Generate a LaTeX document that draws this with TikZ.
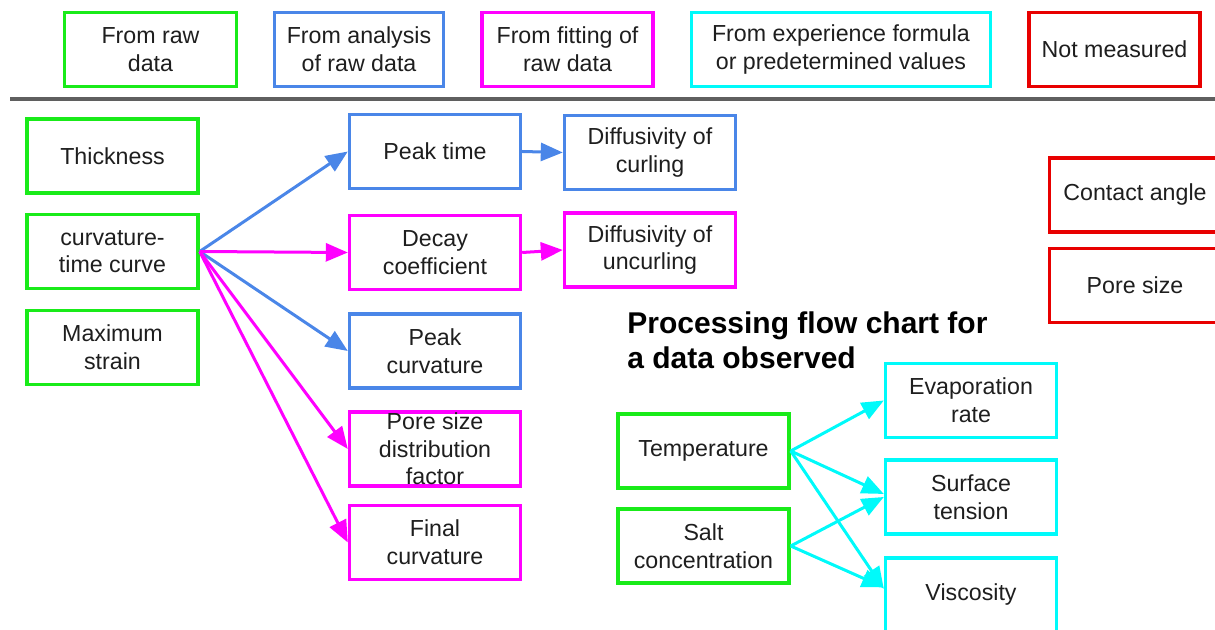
\documentclass[tikz,border=0pt]{standalone}
\usepackage{fontspec}
\setmainfont{Liberation Sans}
\usetikzlibrary{arrows.meta}
\definecolor{rawgreen}{RGB}{25,235,25}
\definecolor{anablue}{RGB}{74,134,232}
\definecolor{fitmagenta}{RGB}{255,0,255}
\definecolor{expcyan}{RGB}{0,250,250}
\definecolor{nonered}{RGB}{232,0,0}
\definecolor{rulegray}{RGB}{95,95,95}
\definecolor{inkgray}{RGB}{30,30,30}
\begin{document}
\begin{tikzpicture}[x=0.5pt,y=-0.5pt,
    box/.style={draw,line width=1.7pt,align=center,inner sep=0pt,
      minimum width=85.5pt,minimum height=37pt,text=inkgray,
      font=\fontsize{11.6}{13.8}\selectfont},
    rawbox/.style={box,draw=rawgreen},
    anabox/.style={box,draw=anablue},
    fitbox/.style={box,draw=fitmagenta},
    expbox/.style={box,draw=expcyan},
    nonebox/.style={box,draw=nonered},
    boxtext/.style={align=center,inner sep=0pt,text=inkgray,
      font=\fontsize{11.6}{13.8}\selectfont},
    titletext/.style={anchor=base west,inner sep=0pt,text=black,
      font=\fontsize{15}{18}\bfseries},
    flow/.style={line width=1.5pt,-{Triangle[length=11pt,width=9pt]}}]
  \useasboundingbox (0,0) rectangle (1215,630);
  \clip (0,0) rectangle (1215,630);
  % legend
  \node[rawbox,minimum width=86pt] (lgraw) at (150.5,49.5) {From raw\\data};
  \node[anabox,minimum width=84.5pt] (lgana) at (359,49.5) {From analysis\\of raw data};
  \node[fitbox] (lgfit) at (567.5,49.5) {From fitting of\\raw data};
  \node[expbox,minimum width=149.5pt] (lgexp) at (841,49.5) {From experience formula\\or predetermined values};
  \node[nonebox] (lgnone) at (1114.5,49.5) {Not measured};
  \coordinate (ruleL) at (10,99);
  \coordinate (ruleR) at (1215,99);
  \draw[rulegray,line width=2pt] (ruleL) -- (ruleR);
  % raw data
  \node[rawbox] (thick) at (112.5,156) {Thickness};
  \node[rawbox] (curve) at (112.5,251.5) {curvature-\\time curve};
  \node[rawbox] (strain) at (112.5,347.5) {Maximum\\strain};
  % derived from the curve
  \node[anabox] (peaktime) at (435,151.5) {Peak time};
  \node[fitbox] (decay) at (435,252.5) {Decay\\coefficient};
  \node[anabox] (peakcurv) at (435,351) {Peak\\curvature};
  \node[fitbox] (psd) at (435,449) {};
  \node[boxtext] (psdtext) at (psd.center) {Pore size\\distribution\\factor};
  \node[fitbox] (finalcurv) at (435,542.5) {Final\\curvature};
  \node[anabox] (curling) at (650,152.5) {Diffusivity of\\curling};
  \node[fitbox] (uncurling) at (650,250) {Diffusivity of\\uncurling};
  % not measured
  \node[nonebox] (contact) at (1135,195) {Contact angle};
  \node[nonebox] (poresize) at (1135,285.5) {Pore size};
  % observed data
  \node[titletext] (title) at (627,334) {Processing flow chart for};
  \node[titletext] (title2) at (627,369) {a data observed};
  \node[rawbox] (temp) at (703.5,451) {Temperature};
  \node[rawbox] (salt) at (703.5,546) {Salt\\concentration};
  \node[expbox] (evap) at (971,400.5) {Evaporation\\rate};
  \node[expbox] (surf) at (971,497) {Surface\\tension};
  \node[expbox] (visc) at (971,595) {Viscosity};
  \begin{scope}[flow,anablue]
    \draw (curve.east) to (peaktime.west);
    \draw (curve.east) to (peakcurv.west);
    \draw (peaktime.east) to (curling.west);
  \end{scope}
  \begin{scope}[flow,fitmagenta]
    \draw (curve.east) to (decay.west);
    \draw (curve.east) to (psd.west);
    \draw (curve.east) to (finalcurv.west);
    \draw (decay.east) to (uncurling.west);
  \end{scope}
  \begin{scope}[flow,expcyan]
    \draw (temp.east) to (evap.west);
    \draw (temp.east) to (surf.178);
    \draw (temp.east) to (visc.176.5);
    \draw (salt.east) to (surf.west);
    \draw (salt.east) to (visc.175);
  \end{scope}
\end{tikzpicture}
\end{document}
